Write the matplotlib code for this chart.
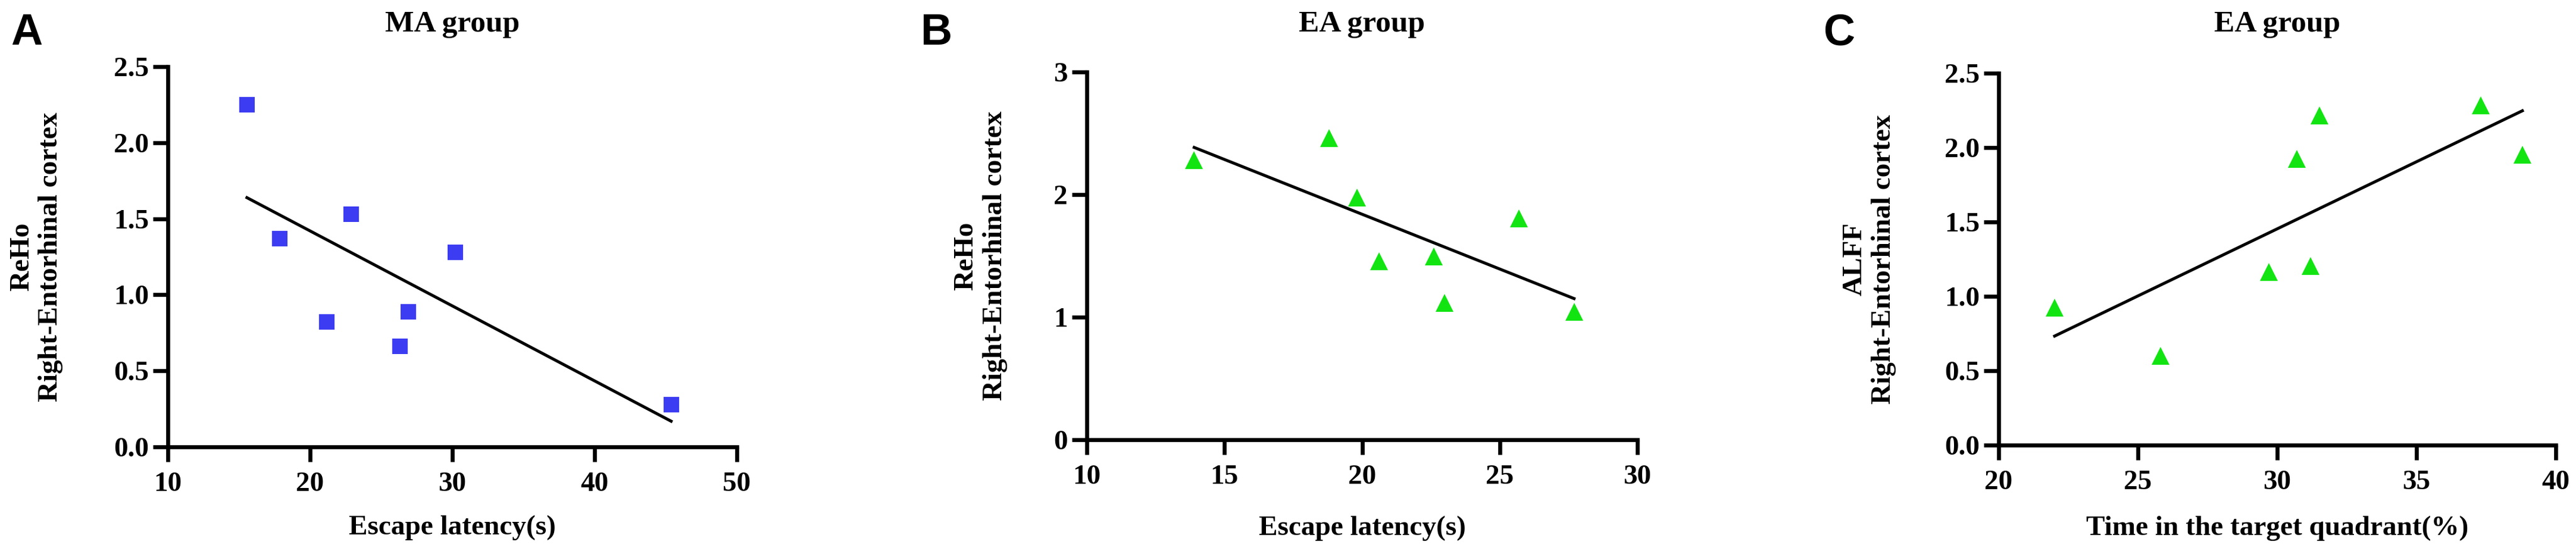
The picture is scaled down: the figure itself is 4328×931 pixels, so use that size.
import matplotlib
matplotlib.use("Agg")
import matplotlib.pyplot as plt
import numpy as np

# panel A - MA group, ReHo vs escape latency
ma_latency = [15.56, 17.87, 21.17, 22.89, 26.3, 26.9, 30.2, 45.38]
ma_reho = [2.249, 1.370, 0.823, 1.530, 0.66, 0.89, 1.28, 0.276]

# panel B - EA group, ReHo vs escape latency
ea_latency = [13.90, 18.81, 19.81, 20.61, 22.60, 23.0, 25.69, 27.70]
ea_reho = [2.283, 2.46, 1.976, 1.454, 1.494, 1.117, 1.805, 1.045]

# panel C - EA group, ALFF vs time in target quadrant
ea_time = [22.01, 25.81, 29.70, 30.70, 31.20, 31.52, 37.31, 38.80]
ea_alff = [0.924, 0.602, 1.163, 1.923, 1.202, 2.214, 2.284, 1.953]

W, H = 4328, 931
DPI = 100

SERIF = "Liberation Serif"
SANS = "Liberation Sans"
BLUE = "#3c3cf2"
GREEN = "#12e412"

plt.rcParams["font.family"] = SERIF
plt.rcParams["font.weight"] = "bold"

fig = plt.figure(figsize=(W / DPI, H / DPI), dpi=DPI)


def px_axes(left, right, top, bottom):
    return fig.add_axes([left / W, (H - bottom) / H, (right - left) / W, (bottom - top) / H])


def style(ax, xticks, yticks, yfmt):
    for s in ["top", "right"]:
        ax.spines[s].set_visible(False)
    for s in ["left", "bottom"]:
        ax.spines[s].set_linewidth(4.8)
    ax.set_xlim(xticks[0], xticks[-1])
    ax.set_ylim(yticks[0], yticks[-1])
    ax.set_xticks(xticks)
    ax.set_yticks(yticks)
    ax.set_yticklabels([yfmt % v for v in yticks])
    ax.tick_params(axis="both", length=18, width=4.8, labelsize=34)
    ax.tick_params(axis="x", pad=12)
    ax.tick_params(axis="y", pad=5)
    for lab in ax.get_xticklabels() + ax.get_yticklabels():
        lab.set_fontweight("bold")


def panel(ax, x, y, marker, color, ms, title, tpad, xlabel, ylabel, xl_y, yl_x):
    ax.plot(x, y, linestyle="none", marker=marker, color=color, ms=ms,
            markeredgewidth=0, clip_on=False, zorder=3)
    k, b = np.polyfit(x, y, 1)
    xs = np.array([min(x), max(x)])
    ax.plot(xs, k * xs + b, color="black", lw=3.6, zorder=2)
    ax.set_title(title, fontsize=37, fontweight="bold", pad=tpad)
    ax.set_xlabel(xlabel, fontsize=34, fontweight="bold")
    ax.set_ylabel(ylabel, fontsize=34, fontweight="bold", linespacing=1.2)
    ax.xaxis.set_label_coords(0.5, xl_y)
    ax.yaxis.set_label_coords(yl_x, 0.5)


axA = px_axes(282, 1238, 112, 751)
style(axA, [10, 20, 30, 40, 50], [0, 0.5, 1.0, 1.5, 2.0, 2.5], "%.1f")
panel(axA, ma_latency, ma_reho, "s", BLUE, 19, "MA group", 42.5,
      "Escape latency(s)", "ReHo\nRight-Entorhinal cortex", -0.18, -0.184)

axB = px_axes(1826, 2751, 121, 739)
style(axB, [10, 15, 20, 25, 30], [0, 1, 2, 3], "%d")
panel(axB, ea_latency, ea_reho, "^", GREEN, 22, "EA group", 49,
      "Escape latency(s)", "ReHo\nRight-Entorhinal cortex", -0.207, -0.144)

axC = px_axes(3358, 4294, 123, 748)
style(axC, [20, 25, 30, 35, 40], [0, 0.5, 1.0, 1.5, 2.0, 2.5], "%.1f")
panel(axC, ea_time, ea_alff, "^", GREEN, 22, "EA group", 50.5,
      "Time in the target quadrant(%)", "ALFF\nRight-Entorhinal cortex", -0.19, -0.184)

for letter, xp in [("A", 18), ("B", 1546), ("C", 3064)]:
    fig.text(xp / W, 1 - 75 / H, letter, family=SANS, fontsize=53,
             fontweight="bold", ha="left", va="baseline")

fig.savefig("out.png", dpi=DPI, facecolor="white")
